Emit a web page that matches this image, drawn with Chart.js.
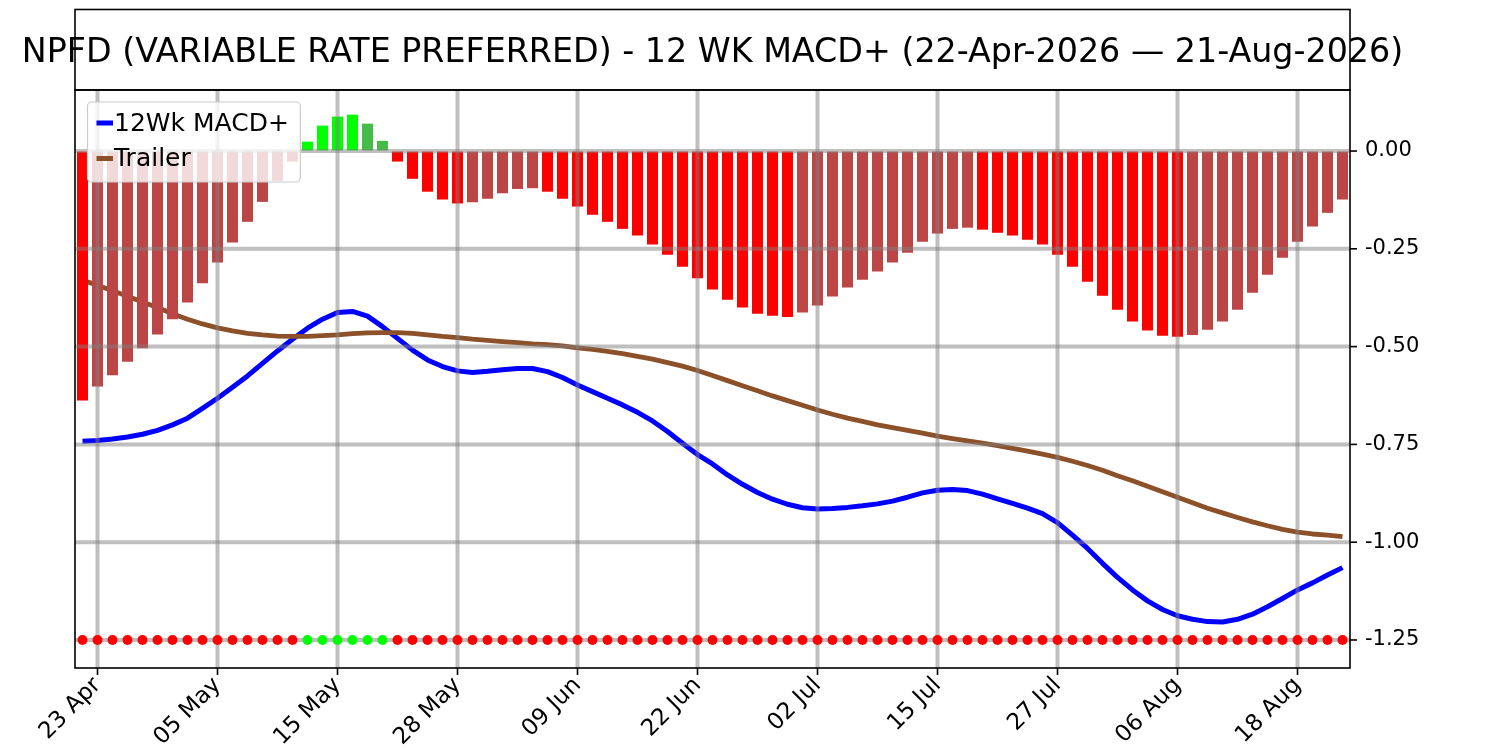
<!DOCTYPE html>
<html>
<head>
<meta charset="utf-8">
<title>NPFD 12 WK MACD+</title>
<script src="https://cdn.jsdelivr.net/npm/chart.js@4.4.1/dist/chart.umd.min.js"></script>
<style>
  html, body { margin: 0; padding: 0; background: #ffffff; }
  canvas { display: block; }
</style>
</head>
<body>
<canvas id="macdChart" width="1500" height="750" style="width:1500px;height:750px"></canvas>
<script>
// trading days shown on the x axis
const dates = [
    '22 Apr', '23 Apr', '24 Apr', '27 Apr', '28 Apr', '29 Apr', '30 Apr',
    '01 May', '04 May', '05 May', '06 May', '07 May', '08 May', '11 May', '12 May',
    '13 May', '14 May', '15 May', '18 May', '19 May', '20 May', '21 May', '22 May',
    '26 May', '27 May', '28 May', '29 May',
    '01 Jun', '02 Jun', '03 Jun', '04 Jun', '05 Jun', '08 Jun', '09 Jun', '10 Jun',
    '11 Jun', '12 Jun', '15 Jun', '16 Jun', '17 Jun', '18 Jun', '22 Jun', '23 Jun',
    '24 Jun', '25 Jun', '26 Jun', '29 Jun', '30 Jun',
    '01 Jul', '02 Jul', '06 Jul', '07 Jul', '08 Jul', '09 Jul', '10 Jul', '13 Jul',
    '14 Jul', '15 Jul', '16 Jul', '17 Jul', '20 Jul', '21 Jul', '22 Jul', '23 Jul',
    '24 Jul', '27 Jul', '28 Jul', '29 Jul', '30 Jul', '31 Jul',
    '03 Aug', '04 Aug', '05 Aug', '06 Aug', '07 Aug', '10 Aug', '11 Aug', '12 Aug',
    '13 Aug', '14 Aug', '17 Aug', '18 Aug', '19 Aug', '20 Aug', '21 Aug'
];

// which dates get a tick label
const xTickIndex = [1, 9, 17, 25, 33, 41, 49, 57, 65, 73, 81];
const yTicks = [0, -0.25, -0.5, -0.75, -1.0, -1.25];
const yMin = -1.3216;
const yMax = 0.156;

const macd = [
    -0.742, -0.740, -0.736, -0.731, -0.724, -0.714, -0.700, -0.683, -0.658, -0.632,
    -0.604, -0.575, -0.543, -0.511, -0.481, -0.453, -0.430, -0.413, -0.410, -0.422,
    -0.449, -0.479, -0.509, -0.534, -0.551, -0.562, -0.566, -0.563, -0.559, -0.556,
    -0.556, -0.564, -0.579, -0.598, -0.615, -0.632, -0.649, -0.668, -0.690, -0.717,
    -0.747, -0.776, -0.800, -0.828, -0.852, -0.873, -0.890, -0.903, -0.912, -0.915,
    -0.914, -0.911, -0.907, -0.902, -0.895, -0.885, -0.874, -0.867, -0.865, -0.868,
    -0.877, -0.889, -0.901, -0.913, -0.927, -0.950, -0.982, -1.016, -1.054, -1.090,
    -1.122, -1.150, -1.172, -1.188, -1.197, -1.203, -1.204, -1.197, -1.184, -1.165,
    -1.144, -1.122, -1.104, -1.084, -1.065
];

const trailer = [
    -0.330, -0.343, -0.357, -0.371, -0.386, -0.400, -0.416, -0.430, -0.442, -0.452,
    -0.460, -0.466, -0.470, -0.473, -0.474, -0.474, -0.472, -0.470, -0.467, -0.465,
    -0.464, -0.464, -0.466, -0.470, -0.474, -0.477, -0.481, -0.484, -0.487, -0.490,
    -0.493, -0.495, -0.498, -0.503, -0.507, -0.512, -0.518, -0.525, -0.532, -0.541,
    -0.550, -0.561, -0.574, -0.587, -0.600, -0.613, -0.626, -0.638, -0.650, -0.662,
    -0.673, -0.683, -0.691, -0.700, -0.707, -0.714, -0.721, -0.729, -0.735, -0.741,
    -0.747, -0.753, -0.760, -0.767, -0.775, -0.783, -0.793, -0.804, -0.816, -0.830,
    -0.843, -0.857, -0.871, -0.885, -0.899, -0.913, -0.925, -0.937, -0.948, -0.958,
    -0.967, -0.974, -0.979, -0.982, -0.986
];

const histogram = [
    -0.638, -0.602, -0.573, -0.539, -0.504, -0.469, -0.430, -0.387, -0.338, -0.285,
    -0.234, -0.181, -0.130, -0.076, -0.027, 0.024, 0.065, 0.088, 0.093, 0.070,
    0.026, -0.027, -0.071, -0.104, -0.124, -0.134, -0.131, -0.122, -0.108, -0.097,
    -0.095, -0.104, -0.122, -0.142, -0.163, -0.181, -0.199, -0.216, -0.239, -0.265,
    -0.296, -0.325, -0.354, -0.380, -0.400, -0.416, -0.421, -0.424, -0.413, -0.395,
    -0.372, -0.349, -0.329, -0.308, -0.285, -0.260, -0.232, -0.211, -0.199, -0.196,
    -0.201, -0.209, -0.216, -0.227, -0.239, -0.265, -0.296, -0.334, -0.370, -0.406,
    -0.436, -0.459, -0.472, -0.475, -0.470, -0.457, -0.436, -0.406, -0.362, -0.316,
    -0.273, -0.232, -0.193, -0.158, -0.124
];

// row of signal dots drawn along the bottom
const signalLevel = -1.25;

const titleText = 'NPFD (VARIABLE RATE PREFERRED) - 12 WK MACD+ (22-Apr-2026 \u2014 21-Aug-2026)';

const RED = '#ff0000';
const DULL_RED = '#bc4545';
const LIME = '#00ff00';
const DULL_GREEN = '#45bc45';
const GRID = 'rgba(128, 128, 128, 0.5)';

Chart.defaults.font.family = "'DejaVu Sans', sans-serif";
Chart.defaults.color = '#000000';

function barColor(i) {
    const v = histogram[i];
    const rising = i > 0 && v > histogram[i - 1];
    if (v >= 0) return rising ? LIME : DULL_GREEN;
    return rising ? DULL_RED : RED;
}

// grid sits over the bars but under the dots
const gridPlugin = {
    id: 'gridOverBars',
    beforeDatasetDraw(chart, args) {
        if (args.index !== 3) return;
        const { ctx, chartArea, scales } = chart;
        ctx.save();
        ctx.beginPath();
        ctx.rect(chartArea.left, chartArea.top, chartArea.width, chartArea.height);
        ctx.clip();
        ctx.strokeStyle = GRID;
        ctx.lineWidth = 4;
        scales.x.ticks.forEach((t, i) => {
            const px = scales.x.getPixelForTick(i);
            ctx.beginPath();
            ctx.moveTo(px, chartArea.top);
            ctx.lineTo(px, chartArea.bottom);
            ctx.stroke();
        });
        scales.y.ticks.forEach((t, i) => {
            const py = scales.y.getPixelForTick(i);
            ctx.beginPath();
            ctx.moveTo(chartArea.left, py);
            ctx.lineTo(chartArea.right, py);
            ctx.stroke();
        });
        ctx.restore();
    }
};

// title box, frame, tick marks and the legend
const framePlugin = {
    id: 'frameAndLegend',
    afterDraw(chart) {
        const { ctx, chartArea, scales } = chart;
        const { left, right, top, bottom } = chartArea;
        ctx.save();

        // title box
        ctx.strokeStyle = '#000000';
        ctx.lineWidth = 1.6;
        ctx.strokeRect(left, 9.5, right - left, top - 9.5);
        ctx.fillStyle = '#000000';
        ctx.font = "33.3px 'DejaVu Sans'";
        ctx.textAlign = 'center';
        ctx.textBaseline = 'alphabetic';
        ctx.fillText(titleText, (left + right) / 2, 62);

        // plot frame
        ctx.strokeRect(left, top, right - left, bottom - top);

        // tick marks
        ctx.lineWidth = 1.6;
        scales.x.ticks.forEach((t, i) => {
            const px = scales.x.getPixelForTick(i);
            ctx.beginPath();
            ctx.moveTo(px, bottom);
            ctx.lineTo(px, bottom + 7);
            ctx.stroke();
        });
        scales.y.ticks.forEach((t, i) => {
            const py = scales.y.getPixelForTick(i);
            ctx.beginPath();
            ctx.moveTo(right, py);
            ctx.lineTo(right + 7, py);
            ctx.stroke();
        });

        // legend
        const items = [chart.data.datasets[0], chart.data.datasets[1]];
        ctx.font = "25px 'DejaVu Sans'";
        const textW = Math.max(...items.map(d => ctx.measureText(d.label).width));
        const bx = left + 12.5, by = top + 12, bw = 27 + textW + 11, bh = 80, r = 4;
        ctx.beginPath();
        ctx.moveTo(bx + r, by);
        ctx.arcTo(bx + bw, by, bx + bw, by + bh, r);
        ctx.arcTo(bx + bw, by + bh, bx, by + bh, r);
        ctx.arcTo(bx, by + bh, bx, by, r);
        ctx.arcTo(bx, by, bx + bw, by, r);
        ctx.closePath();
        ctx.fillStyle = 'rgba(255, 255, 255, 0.8)';
        ctx.fill();
        ctx.strokeStyle = '#cccccc';
        ctx.lineWidth = 1.2;
        ctx.stroke();

        ctx.textAlign = 'left';
        ctx.textBaseline = 'middle';
        items.forEach((d, k) => {
            const cy = by + 21 + k * 35.5;
            ctx.strokeStyle = d.borderColor;
            ctx.lineWidth = 5;
            ctx.beginPath();
            ctx.moveTo(bx + 9, cy);
            ctx.lineTo(bx + 25.5, cy);
            ctx.stroke();
            ctx.fillStyle = '#000000';
            ctx.fillText(d.label, bx + 26.5, cy + 1);
        });

        ctx.restore();
    }
};

new Chart(document.getElementById('macdChart'), {
    type: 'bar',
    data: {
        labels: dates,
        datasets: [
            {
                type: 'line',
                label: '12Wk MACD+',
                data: macd,
                borderColor: '#0000ff',
                borderWidth: 5,
                pointRadius: 0,
                tension: 0,
                borderJoinStyle: 'round',
                order: 4
            },
            {
                type: 'line',
                label: 'Trailer',
                data: trailer,
                borderColor: '#8c5129',
                borderWidth: 4.8,
                pointRadius: 0,
                tension: 0,
                borderJoinStyle: 'round',
                order: 3
            },
            {
                type: 'bar',
                label: 'Histogram',
                data: histogram,
                backgroundColor: ctx => barColor(ctx.dataIndex),
                borderWidth: 0,
                barPercentage: 0.733,
                categoryPercentage: 1.0,
                order: 2
            },
            {
                type: 'line',
                label: 'Signal',
                data: dates.map(() => signalLevel),
                showLine: false,
                pointRadius: 5,
                pointHoverRadius: 5,
                pointBorderWidth: 0,
                pointBackgroundColor: ctx => (histogram[ctx.dataIndex] > 0 ? LIME : RED),
                order: 1
            }
        ]
    },
    options: {
        responsive: false,
        devicePixelRatio: 1,
        animation: false,
        layout: { padding: { left: 75, top: 90, right: 0, bottom: 0 } },
        plugins: {
            legend: { display: false },
            title: { display: false },
            tooltip: { enabled: false }
        },
        scales: {
            x: {
                type: 'category',
                offset: true,
                border: { display: false },
                grid: { display: true, color: 'rgba(0,0,0,0)', drawTicks: true, tickLength: 2 },
                ticks: {
                    autoSkip: false,
                    maxRotation: 45,
                    minRotation: 45,
                    padding: 2,
                    font: { size: 23 },
                    color: '#000000'
                },
                afterBuildTicks: scale => {
                    scale.ticks = xTickIndex.map(v => ({ value: v }));
                },
                afterFit: scale => { scale.height = 82; }
            },
            y: {
                position: 'right',
                min: yMin,
                max: yMax,
                border: { display: false },
                grid: { display: true, color: 'rgba(0,0,0,0)', drawTicks: true, tickLength: 7 },
                ticks: {
                    padding: 8,
                    font: { size: 21 },
                    color: '#000000',
                    callback: v => v.toFixed(2)
                },
                afterBuildTicks: scale => {
                    scale.ticks = yTicks.map(v => ({ value: v }));
                },
                afterFit: scale => { scale.width = 150; }
            }
        }
    },
    plugins: [gridPlugin, framePlugin]
});
</script>
</body>
</html>
